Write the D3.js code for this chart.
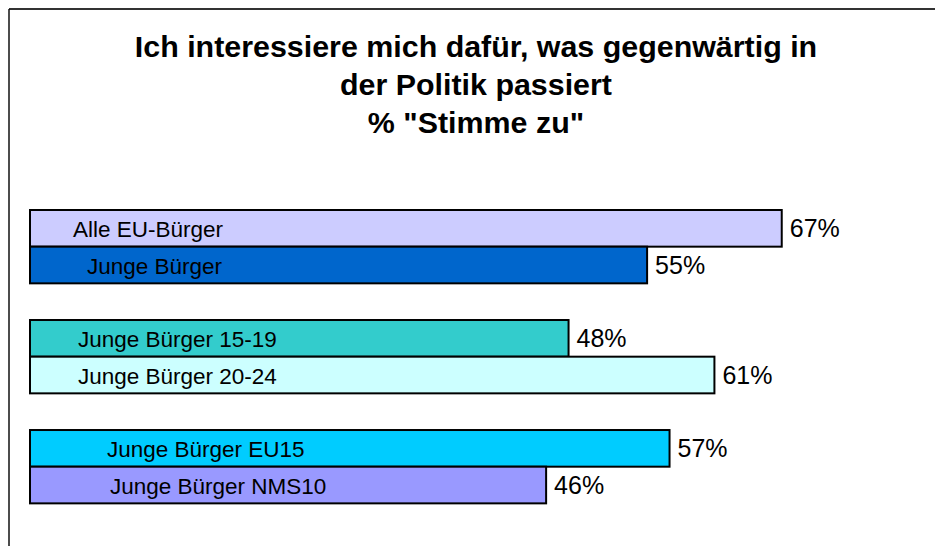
<!DOCTYPE html>
<html>
<head>
<meta charset="utf-8">
<script src="https://cdn.jsdelivr.net/npm/d3@7"></script>
<style>
  body { margin: 0; background: #fff; }
  svg { display: block; font-family: "Liberation Sans", Arial, sans-serif; }
</style>
</head>
<body>
<svg width="935" height="546"></svg>
<script>
const titleLines = ['Ich interessiere mich dafür, was gegenwärtig in', 'der Politik passiert', '% "Stimme zu"']
const categories = ['Alle EU-Bürger', 'Junge Bürger', 'Junge Bürger 15-19', 'Junge Bürger 20-24', 'Junge Bürger EU15', 'Junge Bürger NMS10']
const values = [67, 55, 48, 61, 57, 46]
const groups = [0, 0, 1, 1, 2, 2]
const colors = ['#ccccff', '#0066cc', '#33cccc', '#ccffff', '#00ccff', '#9999ff']
// label indent inside each bar (the original had them hand placed)
const labelIndent = [43, 57, 48, 48, 77, 80]

const svg = d3.select('svg')
const width = +svg.attr('width')

// frame: only the top and left edge are drawn
svg.append('line').attr('x1', 9).attr('x2', width).attr('y1', 9).attr('y2', 9)
  .attr('stroke', '#333').attr('stroke-width', 2)
svg.append('line').attr('x1', 9).attr('x2', 9).attr('y1', 9).attr('y2', 546)
  .attr('stroke', '#111').attr('stroke-width', 1.5)

svg.append('text')
  .attr('text-anchor', 'middle')
  .attr('font-weight', 'bold')
  .attr('font-size', 30.4)
  .selectAll('tspan').data(titleLines).join('tspan')
    .attr('x', 476)
    .attr('y', (d, i) => 57 + i * 38)
    .text(d => d)

const x = d3.scaleLinear().domain([0, 100]).range([30, 1152])
// each group takes 3 slots, the third one is the gap
const slot = (d, i) => groups[i] * 3 + (i % 2)
const y = d3.scaleBand().domain(d3.range(8)).range([210, 210 + 8 * 36.67])

const bars = svg.append('g').selectAll('g').data(values).join('g')
  .attr('transform', (d, i) => `translate(0,${y(slot(d, i))})`)

bars.append('rect')
  .attr('x', x(0))
  .attr('width', d => x(d) - x(0))
  .attr('height', y.bandwidth())
  .attr('fill', (d, i) => colors[i])
  .attr('stroke', '#000')
  .attr('stroke-width', 2)

bars.append('text')
  .attr('x', (d, i) => x(0) + labelIndent[i])
  .attr('y', y.bandwidth() / 2 + 9)
  .attr('font-size', 22.5)
  .attr('fill', '#000')
  .text((d, i) => categories[i])

bars.append('text')
  .attr('x', d => x(d) + 8)
  .attr('y', y.bandwidth() / 2 + 9)
  .attr('font-size', 25)
  .attr('fill', '#000')
  .text(d => d + '%')
</script>
</body>
</html>
